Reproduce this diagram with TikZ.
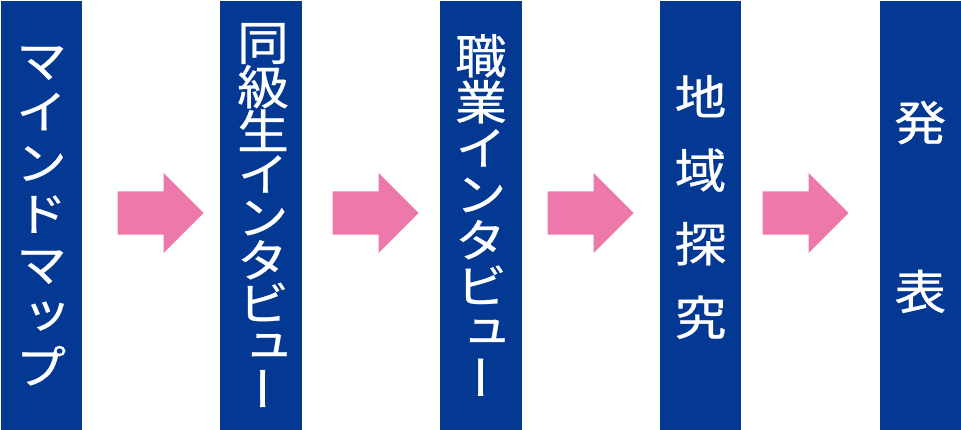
\documentclass[tikz,border=0pt]{standalone}
\usepackage{fontspec}
\usetikzlibrary{shapes.arrows,calc}
\newfontfamily\jpv[RawFeature=+vert, FakeBold=0.6, FakeStretch=1.1]{Noto Sans CJK JP}
\definecolor{barblue}{HTML}{033893}
\definecolor{arrowpink}{HTML}{EC79AA}
\tikzset{
  bar/.style={rectangle, fill=barblue, draw=none, minimum width=81.5pt, minimum height=429pt, inner sep=0pt},
  vlabel/.style={text=white, align=center, inner sep=0pt, font=\jpv\fontsize{47}{#1}\selectfont},
  blockarrow/.style={single arrow, fill=arrowpink, draw=none, inner xsep=0pt, inner ysep=21.5pt,
    single arrow head extend=18.5pt, single arrow tip angle=90, single arrow head indent=0pt,
    minimum height=86pt, minimum width=0pt, anchor=tip}
}
\begin{document}
\begin{tikzpicture}[x=1pt,y=1pt]
\useasboundingbox (0,0) rectangle (961,430);
\node[bar] (b1) at (41.5,214.5) {};
\node[bar] (b2) at (261,214.5) {};
\node[bar] (b3) at (481,214.5) {};
\node[bar] (b4) at (700.5,214.5) {};
\node[bar] (b5) at (920.25,214.5) {};
\node[vlabel=51] (t1) at (41.5,214) {マ\\イ\\ン\\ド\\マ\\ッ\\プ};
\node[vlabel=43] (t2) at (263,215) {同\\級\\生\\イ\\ン\\タ\\ビ\\ュ\\ー};
\node[vlabel=46] (t3) at (481,215) {職\\業\\イ\\ン\\タ\\ビ\\ュ\\ー};
\node[vlabel=73.5] (t4) at (700.5,223) {地\\域\\探\\究};
\node[vlabel=169] (t5) at (920.25,223) {発\\表};
\node[blockarrow] (a1) at (204,217) {};
\node[blockarrow] (a2) at (419,217) {};
\node[blockarrow] (a3) at (634,217) {};
\node[blockarrow] (a4) at (849,217) {};
\end{tikzpicture}
\end{document}
